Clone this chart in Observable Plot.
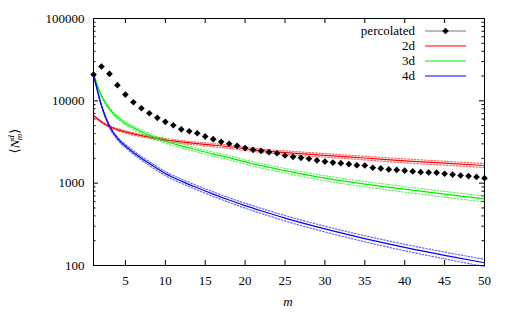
<!DOCTYPE html>
<html>
<head>
<meta charset="utf-8">
<script src="https://cdn.jsdelivr.net/npm/d3@7"></script>
<script src="https://cdn.jsdelivr.net/npm/@observablehq/plot@0.6"></script>
<style>
  html, body { margin: 0; padding: 0; background: white; }
  #wrap { position: relative; width: 512px; height: 315px; }
  #wrap svg { display: block; }
  #overlay { position: absolute; left: 0; top: 0; pointer-events: none; }
</style>
</head>
<body>
<div id="wrap"></div>
<script>
// ---- data ----
const xTicks = [5, 10, 15, 20, 25, 30, 35, 40, 45, 50];
const yTicks = [100, 1000, 10000, 100000];
const seriesNames = ["percolated", "2d", "3d", "4d"];
const seriesColors = ["#000000", "#ff0000", "#00ee00", "#0000ff"];

const percM = [1,2,3,4,5,6,7,8,9,10,11,12,13,14,15,16,17,18,19,20,21,22,23,24,25,26,27,28,29,30,31,32,33,34,35,36,37,38,39,40,41,42,43,44,45,46,47,48,49,50];
const percolated = [20900,26100,21300,15500,11900,9620,8130,7070,6210,5560,5050,4510,4270,4040,3700,3420,3180,3010,2840,2670,2540,2470,2380,2310,2170,2090,2030,1980,1890,1830,1780,1750,1700,1650,1640,1540,1510,1470,1450,1420,1390,1360,1350,1340,1300,1270,1240,1220,1190,1150];

const curveM = [1,2,3,4,5,6,7,8,10,12,14,16,18,20,22,25,30,35,40,45,50];
const twoD   = [6640,5550,4870,4470,4190,3960,3780,3630,3360,3170,3030,2900,2770,2620,2480,2350,2180,2020,1870,1750,1640];
const threeD = [20900,11500,8000,6300,5350,4720,4220,3820,3230,2840,2530,2250,2040,1810,1630,1420,1150,975,845,735,646];
const fourD  = [20900,8770,4900,3500,2830,2360,2010,1730,1310,1060,880,737,624,534,462,376,278,212,166,133,108];
const twoDErr   = [0.01,0.02,0.025,0.03,0.03,0.035,0.035,0.035,0.04,0.04,0.04,0.045,0.045,0.045,0.045,0.05,0.05,0.05,0.055,0.055,0.055];
const threeDErr = [0.01,0.03,0.035,0.04,0.045,0.045,0.05,0.05,0.05,0.055,0.055,0.06,0.06,0.06,0.065,0.065,0.07,0.075,0.08,0.08,0.085];
const fourDErr  = [0.01,0.03,0.035,0.04,0.045,0.05,0.05,0.055,0.055,0.06,0.06,0.065,0.065,0.07,0.07,0.075,0.08,0.085,0.09,0.095,0.10];

// ---- tables ----
const percData = percM.map((m, i) => ({m, v: percolated[i]}));
function curveTable(vals, errs) {
  return curveM.map((m, i) => ({m, v: vals[i], hi: vals[i] * (1 + errs[i]), lo: vals[i] * (1 - errs[i])}));
}
const curves = [
  {data: curveTable(twoD, twoDErr), color: seriesColors[1]},
  {data: curveTable(threeD, threeDErr), color: seriesColors[2]},
  {data: curveTable(fourD, fourDErr), color: seriesColors[3]}
];
const yMinor = [100, 1000, 10000].flatMap(d => [2,3,4,5,6,7,8,9].map(k => k * d));

const W = 512, H = 315, ML = 93, MR = 28, MT = 18, MB = 50;
const IW = W - ML - MR, IH = H - MT - MB;
const font = "'Liberation Serif', 'DejaVu Serif', serif";

const curveMarks = curves.flatMap(c => [
  Plot.line(c.data, {x: "m", y: "hi", stroke: c.color, strokeWidth: 1.2, strokeOpacity: 0.6, strokeDasharray: "1.5,1.8", curve: "monotone-x"}),
  Plot.line(c.data, {x: "m", y: "lo", stroke: c.color, strokeWidth: 1.2, strokeOpacity: 0.6, strokeDasharray: "1.5,1.8", curve: "monotone-x"}),
  Plot.line(c.data, {x: "m", y: "v", stroke: c.color, strokeWidth: 1.2, curve: "monotone-x"})
]);

const chart = Plot.plot({
  width: W, height: H,
  marginLeft: ML, marginRight: MR, marginTop: MT, marginBottom: MB,
  style: {fontFamily: font, fontSize: "13px", background: "white", color: "black"},
  x: {domain: [1, 50]},
  y: {type: "log", domain: [100, 100000]},
  marks: [
    Plot.axisX(xTicks, {tickSize: 0, tickPadding: 10, label: null, fontSize: 13}),
    Plot.axisY(yTicks, {tickSize: 0, tickPadding: 9, label: null, tickFormat: d => String(d), fontSize: 13}),
    // inward ticks, bottom/top
    Plot.tickX(xTicks, {x: d => d, insetTop: IH - 5, stroke: "black"}),
    Plot.tickX(xTicks, {x: d => d, insetBottom: IH - 5, stroke: "black"}),
    // inward ticks, left/right
    Plot.tickY(yTicks, {y: d => d, insetRight: IW - 5, stroke: "black"}),
    Plot.tickY(yTicks, {y: d => d, insetLeft: IW - 5, stroke: "black"}),
    Plot.tickY(yMinor, {y: d => d, insetRight: IW - 2.5, stroke: "black"}),
    Plot.tickY(yMinor, {y: d => d, insetLeft: IW - 2.5, stroke: "black"}),
    ...curveMarks,
    Plot.dot(percData, {x: "m", y: "v", symbol: "diamond2", r: 3, fill: "black", stroke: "none"}),
    Plot.frame({stroke: "black", strokeWidth: 1})
  ]
});

const wrap = document.getElementById("wrap");
wrap.appendChild(chart);

// ---- overlay: legend and axis titles ----
const ov = d3.select(wrap).append("svg")
  .attr("id", "overlay").attr("width", W).attr("height", H)
  .style("font-family", font).style("font-size", "13px");

const legY = [31, 46, 61, 76];
seriesNames.forEach((name, i) => {
  ov.append("text").attr("x", 415).attr("y", legY[i]).attr("dy", "0.32em")
    .attr("text-anchor", "end").attr("fill", "black").text(name);
  ov.append("line").attr("x1", 425).attr("x2", 466).attr("y1", legY[i]).attr("y2", legY[i])
    .attr("stroke", i === 0 ? "#777" : seriesColors[i]).attr("stroke-width", i === 0 ? 1 : 1.2);
});
ov.append("path")
  .attr("d", d3.symbol(d3.symbolDiamond2, Math.PI * 3 * 3)())
  .attr("transform", `translate(445.5,${legY[0]})`).attr("fill", "black");

// x title
ov.append("text").attr("x", 288).attr("y", 306).attr("text-anchor", "middle")
  .style("font-style", "italic").attr("fill", "black").text("m");

// y title: ⟨N_m^d⟩
const yt = ov.append("text").attr("transform", "translate(19,141) rotate(-90)")
  .attr("text-anchor", "middle").attr("fill", "black");
yt.append("tspan").text("⟨");
yt.append("tspan").style("font-style", "italic").text("N");
yt.append("tspan").style("font-style", "italic").style("font-size", "9px").attr("dy", -5).text("d");
yt.append("tspan").style("font-style", "italic").style("font-size", "9px").attr("dx", -5).attr("dy", 8).text("m");
yt.append("tspan").attr("dy", -3).text("⟩");
</script>
</body>
</html>
